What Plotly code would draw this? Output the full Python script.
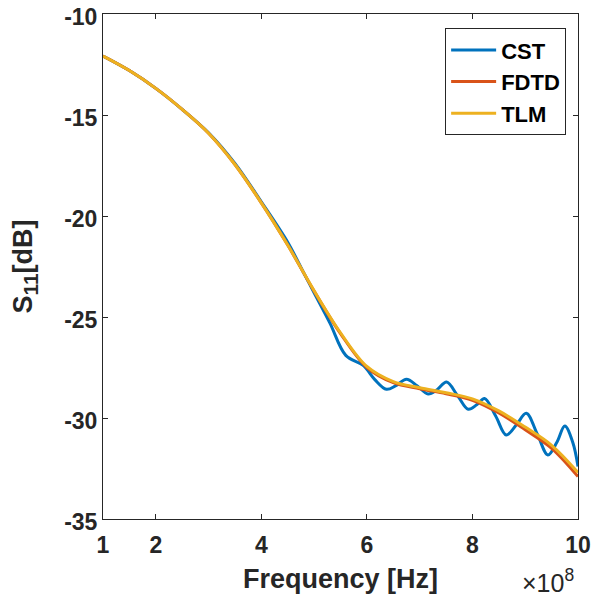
import plotly.graph_objects as go

# Frequency in units of 1e8 Hz
freq_smooth = [1.0, 1.5, 2.0, 2.5, 3.0, 3.5, 4.0, 4.5, 5.0, 5.5, 6.0, 6.5, 7.0, 7.5, 8.0, 8.5, 9.0, 9.5, 10.0]
tlm = [-12.08, -12.8, -13.68, -14.72, -15.9, -17.45, -19.35, -21.44, -23.7, -25.78, -27.45, -28.2, -28.5, -28.75,
       -29.05, -29.65, -30.45, -31.35, -32.7]
fdtd = [-12.08, -12.8, -13.68, -14.72, -15.9, -17.45, -19.35, -21.44, -23.72, -25.82, -27.5, -28.25, -28.55, -28.8,
        -29.12, -29.75, -30.58, -31.5, -32.9]

freq_cst = [1.0, 1.5, 2.0, 2.5, 3.0, 3.5, 4.0, 4.5, 4.8, 5.0, 5.3, 5.6, 5.93, 6.15, 6.37, 6.55, 6.75, 6.95, 7.16,
            7.33, 7.51, 7.72, 7.92, 8.08, 8.23, 8.44, 8.64, 8.83, 9.02, 9.23, 9.43, 9.6, 9.75, 9.9, 10.0]
cst = [-12.08, -12.8, -13.68, -14.72, -15.88, -17.4, -19.3, -21.3, -22.8, -23.8, -25.3, -26.9, -27.4, -28.1, -28.58,
       -28.4, -28.08, -28.4, -28.81, -28.6, -28.22, -28.9, -29.57, -29.35, -29.03, -29.9, -30.84, -30.35, -29.77, -30.8,
       -31.83, -31.2, -30.4, -31.2, -32.4]

x_ticks = [1, 2, 4, 6, 8, 10]
y_ticks = [-35, -30, -25, -20, -15, -10]

series = [
    ("CST", freq_cst, cst, "#0072BD"),
    ("FDTD", freq_smooth, fdtd, "#D95319"),
    ("TLM", freq_smooth, tlm, "#EDB120"),
]

fig = go.Figure()
for name, xs, ys, color in series:
    fig.add_trace(go.Scatter(x=xs, y=ys, mode="lines", name=name,
                             line=dict(color=color, width=3, shape="spline", smoothing=1.0)))

font_family = "Liberation Sans, Arial, sans-serif"
axis_color = "#262626"

# page body has an 8px default margin, so figure is 8px smaller than the window
fig.update_layout(
    width=600, height=590,
    margin=dict(l=95, r=30, t=6, b=79),
    plot_bgcolor="white", paper_bgcolor="white",
    font=dict(family=font_family, color=axis_color),
    showlegend=True,
    legend=dict(
        x=0.975, y=0.972, xanchor="right", yanchor="top",
        bgcolor="white", bordercolor=axis_color, borderwidth=1,
        font=dict(family=font_family, size=22, color="black", weight="bold"),
        tracegroupgap=0, itemwidth=45,
    ),
    xaxis=dict(
        range=[1, 10], tickvals=x_ticks, ticktext=[str(v) for v in x_ticks],
        ticks="inside", ticklen=5, tickcolor=axis_color, tickwidth=1,
        showline=True, linecolor=axis_color, linewidth=1, mirror="ticks",
        showgrid=False, zeroline=False, automargin=False,
        ticklabeloverflow="allow", ticklabelstandoff=5,
        tickfont=dict(family=font_family, size=23, color=axis_color, weight="bold"),
        title=dict(text="Frequency [Hz]", standoff=12,
                   font=dict(family=font_family, size=27, color=axis_color, weight="bold")),
    ),
    yaxis=dict(
        range=[-35, -10], tickvals=y_ticks, ticktext=[str(v) for v in y_ticks],
        ticks="inside", ticklen=5, tickcolor=axis_color, tickwidth=1,
        showline=True, linecolor=axis_color, linewidth=1, mirror="ticks",
        showgrid=False, zeroline=False, automargin=False,
        ticklabeloverflow="allow", ticklabelshift=3,
        tickfont=dict(family=font_family, size=23, color=axis_color, weight="bold"),
        title=dict(text="S<sub><span style='font-size:21px'>11</span></sub>[dB]", standoff=23,
                   font=dict(family=font_family, size=27, color=axis_color, weight="bold")),
    ),
    annotations=[dict(
        text="×10<sup>8</sup>", xref="paper", yref="paper", x=0.937, y=-0.159,
        xanchor="center", yanchor="bottom", showarrow=False,
        font=dict(family=font_family, size=25, color=axis_color),
    )],
)

fig.write_html("out.html")
